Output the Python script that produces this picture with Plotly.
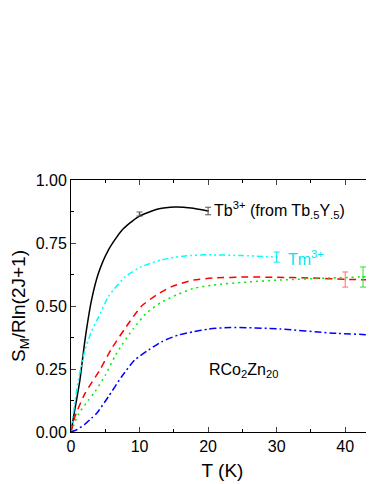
import plotly.graph_objects as go

# entropy curves
tb_T = [0, 0.5, 1.3, 2.04, 3.0, 4.0, 5.45, 7.4, 9.8, 12.7, 15.2, 17.5, 20]
tb_S = [0, 0.08, 0.206, 0.365, 0.524, 0.63, 0.722, 0.80, 0.854, 0.885, 0.893, 0.889, 0.877]

tm_T = [0, 0.34, 1.07, 2.04, 3.0, 4.0, 5.45, 7.9, 10.3, 13.2, 15.2, 17.4, 20, 25, 30]
tm_S = [0, 0.075, 0.206, 0.325, 0.40, 0.455, 0.537, 0.616, 0.656, 0.683, 0.694, 0.700, 0.703, 0.700, 0.694]

red_T = [0, 0.58, 2.04, 4.2, 5.9, 7.9, 10.3, 12.5, 14.7, 17.9, 20.7, 25.7, 30, 35, 40, 44.2]
red_S = [0, 0.061, 0.153, 0.246, 0.33, 0.412, 0.500, 0.544, 0.577, 0.603, 0.611, 0.615, 0.614, 0.611, 0.606, 0.603]

grn_T = [0, 1.07, 2.5, 3.5, 5.0, 6.4, 7.4, 9.1, 11, 13.2, 15.4, 17.9, 20.7, 25.7, 30.5, 37.8, 44.2]
grn_S = [0, 0.07, 0.125, 0.16, 0.225, 0.30, 0.345, 0.41, 0.472, 0.515, 0.544, 0.57, 0.583, 0.595, 0.603, 0.611, 0.617]

blu_T = [0, 0.9, 2.0, 3.0, 3.75, 5.45, 7.4, 9.3, 11.3, 13.2, 15.7, 17.9, 20, 23.2, 30.5, 37.8, 44.2]
blu_S = [0, 0.01, 0.03, 0.055, 0.074, 0.14, 0.22, 0.286, 0.325, 0.358, 0.385, 0.398, 0.408, 0.415, 0.409, 0.393, 0.385]

# error bars
err_T = [10, 20, 30, 40, 42.6]
err_S = [0.865, 0.877, 0.694, 0.605, 0.615]
err_d = [0.008, 0.015, 0.02, 0.03, 0.04]
err_c = ["#555555", "#555555", "#00e5ee", "#ff7070", "#33dd33"]

font = "Liberation Sans, Arial, sans-serif"

fig = go.Figure()
curves = [
    (tb_T, tb_S, "black", "solid"),
    (tm_T, tm_S, "#00ffff", "6px,3px,2px,3px,2px,3px"),
    (red_T, red_S, "#ff0000", "7px,5px"),
    (grn_T, grn_S, "#00ee00", "2px,4px"),
    (blu_T, blu_S, "#0000ff", "7px,3px,2px,3px"),
]
for x, y, c, d in curves:
    fig.add_trace(go.Scatter(x=x, y=y, mode="lines",
                             line=dict(color=c, width=1.5, dash=d, shape="spline", smoothing=0.6),
                             showlegend=False))

for t, s, d, c in zip(err_T, err_S, err_d, err_c):
    fig.add_trace(go.Scatter(x=[t], y=[s], mode="markers", marker=dict(size=2, color=c),
                             error_y=dict(type="data", array=[d], color=c, thickness=1, width=3),
                             showlegend=False))

fig.add_annotation(x=20.6, y=0.88, text="Tb<sup>3+</sup> (from Tb<sub>.5</sub>Y<sub>.5</sub>)", showarrow=False,
                   xanchor="left", font=dict(size=16, color="black", family=font))
fig.add_annotation(x=31.3, y=0.692, text="Tm<sup>3+</sup>", showarrow=False,
                   xanchor="left", font=dict(size=16, color="#00e5ee", family=font))
fig.add_annotation(x=19.8, y=0.246, text="RCo<sub>2</sub>Zn<sub>20</sub>", showarrow=False,
                   xanchor="left", font=dict(size=16, color="black", family=font))

# page body adds an 8px offset, so the figure is a bit smaller
fig.update_layout(
    width=366, height=476,
    margin=dict(l=63, r=0, t=172, b=52),
    plot_bgcolor="white", paper_bgcolor="white",
    font=dict(family=font, size=16, color="black"),
    xaxis=dict(range=[0, 44.2], tickvals=[0, 10, 20, 30, 40], ticks="inside", ticklen=5,
               showline=True, linecolor="black", linewidth=1, mirror="ticks", showgrid=False, zeroline=False,
               minor=dict(tickvals=[5, 15, 25, 35], ticks="inside", ticklen=3, tickcolor="black"),
               automargin=False, title=dict(text="T (K)", standoff=9)),
    yaxis=dict(range=[0, 1.0], tickvals=[0, 0.25, 0.5, 0.75, 1.0], tickformat=".2f", ticks="inside", ticklen=5,
               showline=True, linecolor="black", linewidth=1, mirror="ticks", showgrid=False, zeroline=False,
               minor=dict(tickvals=[0.125, 0.375, 0.625, 0.875], ticks="inside", ticklen=3, tickcolor="black"),
               automargin=False, title=dict(text="S<sub>M</sub>/Rln(2J+1)", standoff=8)),
)

fig.write_html("out.html")
